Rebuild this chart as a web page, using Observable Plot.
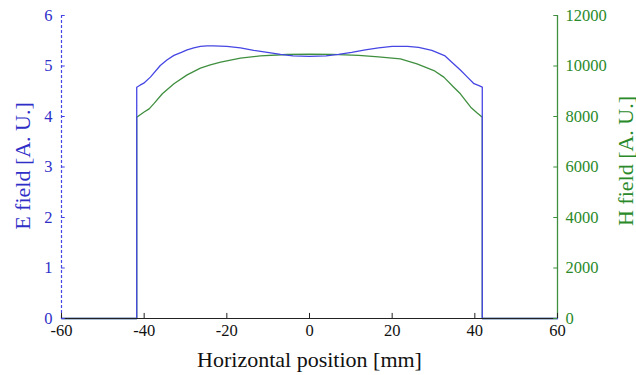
<!DOCTYPE html>
<html>
<head>
<meta charset="utf-8">
<script src="https://cdn.jsdelivr.net/npm/d3@7"></script>
<script src="https://cdn.jsdelivr.net/npm/@observablehq/plot@0.6"></script>
<style>
  html, body { margin: 0; padding: 0; background: #fff; }
  #chart svg { display: block; font-family: "Liberation Serif", "Times New Roman", serif !important; }
  #chart svg text { font-family: "Liberation Serif", "Times New Roman", serif !important; }
</style>
</head>
<body>
<div id="chart"></div>
<script>
// Horizontal position [mm]
const ePos = [-60, -41.8, -41.8, -41, -40.1, -38.5, -36.1, -34.5, -32.8, -31, -29.6, -28, -26.4, -24.8, -23.2, -20, -16.7, -13.5, -10.2, -7, -4, 0,
              4, 7, 10.2, 13.5, 16.7, 20, 23.7, 26.4, 29.6, 32.8, 34.9, 36.5, 38.2, 39.8, 41, 41.8, 41.8, 60];
// E field [A. U.]
const eVal = [0, 0, 4.58, 4.62, 4.66, 4.78, 5.01, 5.12, 5.21, 5.27, 5.32, 5.36, 5.39, 5.40, 5.40, 5.39, 5.36, 5.31, 5.27, 5.23, 5.20, 5.19,
              5.20, 5.23, 5.27, 5.32, 5.36, 5.39, 5.39, 5.37, 5.31, 5.20, 5.04, 4.92, 4.78, 4.65, 4.61, 4.58, 0, 0];

const hPos = [-60, -41.8, -41.8, -40.1, -38.8, -37.7, -35.6, -32.8, -29.6, -26.4, -24, -21.5, -16.7, -11.9, -5.4, 0,
              5.4, 11.9, 16.7, 22, 26, 30.1, 32.5, 34.9, 36.5, 39, 40.5, 41.8, 41.8, 60];
// H field [A. U.]
const hVal = [0, 0, 7970, 8170, 8300, 8500, 8900, 9295, 9650, 9914, 10040, 10150, 10310, 10400, 10455, 10470,
              10460, 10420, 10360, 10280, 10080, 9820, 9560, 9160, 8900, 8370, 8150, 7970, 0, 0];

const xTicks = [-60, -40, -20, 0, 20, 40, 60];
const eTicks = [0, 1, 2, 3, 4, 5, 6];
const hTicks = [0, 2000, 4000, 6000, 8000, 10000, 12000];

const hScale = 2000; // 12000 on the right axis == 6 on the left axis
const blue = "#4646e4", blueText = "#2f2fc8";
const green = "#3f8f3f", greenText = "#2a8a2a";

const eData = ePos.map((x, i) => ({x, y: eVal[i]}));
const hData = hPos.map((x, i) => ({x, y: hVal[i] / hScale}));

const font = "Liberation Serif";

const chart = Plot.plot({
  width: 636,
  height: 375,
  marginLeft: 61,
  marginRight: 79,
  marginTop: 15,
  marginBottom: 57,
  style: "font-family: 'Liberation Serif', serif; background: #fff; overflow: visible;",
  x: {domain: [-60, 60], axis: null},
  y: {domain: [0, 6], axis: null},
  marks: [
    Plot.line(hData, {x: "x", y: "y", stroke: green, strokeWidth: 1.3}),
    Plot.line(eData, {x: "x", y: "y", stroke: blue, strokeWidth: 1.3}),
    // axis lines
    Plot.ruleY([0], {stroke: "#222", strokeWidth: 1.2}),
    Plot.ruleX([-60], {stroke: blue, strokeWidth: 1.2, strokeDasharray: "3,2"}),
    Plot.ruleX([60], {stroke: green, strokeWidth: 1.3}),
    // inward ticks
    Plot.ruleX(xTicks, {y1: 0, y2: 0.1, stroke: "#222"}),
    Plot.ruleY(eTicks, {x1: -60, x2: -59.1, stroke: blue}),
    Plot.ruleY(hTicks.map(h => h / hScale), {x1: 59.1, x2: 60, stroke: green}),
    // tick labels
    Plot.axisX({ticks: xTicks, tickSize: 0, tickPadding: 6, fontSize: 16.5, fontFamily: font, label: null, color: "#111", tickFormat: d => d}),
    Plot.axisY({anchor: "left", ticks: eTicks, tickSize: 0, tickPadding: 9, fontSize: 16.5, fontFamily: font, label: null, color: blueText, tickFormat: d => d}),
    Plot.axisY({anchor: "right", ticks: hTicks.map(h => h / hScale), tickSize: 0, tickPadding: 8, fontSize: 16.5, fontFamily: font, label: null, color: greenText, tickFormat: d => String(Math.round(d * hScale))}),
    // axis titles
    Plot.text(["Horizontal position [mm]"], {text: d => d, frameAnchor: "bottom", textAnchor: "middle", lineAnchor: "middle", dy: 41, fontSize: 22, fontFamily: font, fill: "#111"}),
    Plot.text(["E field [A. U.]"], {text: d => d, frameAnchor: "left", textAnchor: "middle", lineAnchor: "middle", dx: -39, dy: -1, rotate: -90, fontSize: 22, fontFamily: font, fill: blueText}),
    Plot.text(["H field [A. U.]"], {text: d => d, frameAnchor: "right", textAnchor: "middle", lineAnchor: "middle", dx: 68, dy: -6, rotate: -90, fontSize: 22, fontFamily: font, fill: greenText})
  ]
});
document.getElementById("chart").append(chart);
</script>
</body>
</html>
